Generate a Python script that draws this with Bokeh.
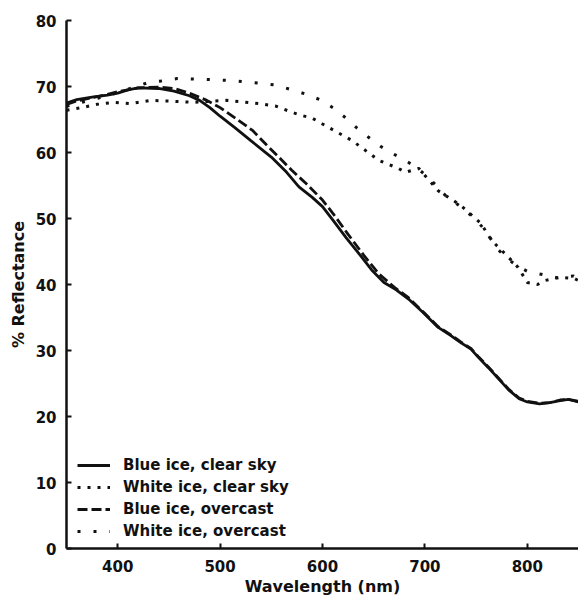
from bokeh.plotting import figure
from bokeh.embed import file_html
from bokeh.resources import INLINE
from bokeh.models import Range1d, FixedTicker, Legend, LegendItem

# ---- data ----
wl_blue_clear = [350, 360, 375, 390, 400, 410, 420, 440, 455, 470, 480, 490, 500, 515, 530, 550, 565, 577, 590, 600,
                 610, 623, 635, 648, 660, 672, 684, 698, 713, 725, 735, 745, 752, 762, 772, 782, 792, 800, 812, 822,
                 832, 840, 850]
refl_blue_clear = [67.5, 68.0, 68.4, 68.7, 69.0, 69.5, 69.8, 69.7, 69.3, 68.6, 67.9, 66.8, 65.5, 63.7, 61.8, 59.3, 57.0,
                   54.8, 53.2, 51.8, 49.8, 47.1, 44.8, 42.2, 40.3, 39.2, 37.8, 35.8, 33.5, 32.3, 31.2, 30.2, 29.0, 27.4,
                   25.7, 24.0, 22.7, 22.2, 21.9, 22.1, 22.4, 22.6, 22.3]

wl_white_clear = [350, 365, 380, 396, 412, 432, 450, 473, 506, 538, 555, 570, 580, 590, 606, 629, 655, 674, 681, 694,
                  713, 735, 755, 765, 778, 791, 800, 810, 817, 832, 846, 850]
refl_white_clear = [66.4, 66.8, 67.3, 67.6, 67.4, 67.9, 67.8, 67.6, 67.9, 67.4, 67.0, 66.1, 65.6, 65.2, 63.8, 61.8, 58.8,
                    57.6, 57.0, 57.6, 54.2, 52.0, 49.2, 46.7, 44.7, 42.6, 40.3, 40.0, 40.6, 41.1, 40.9, 40.6]

wl_blue_over = [350, 360, 375, 390, 400, 420, 440, 455, 470, 487, 500, 515, 532, 545, 558, 570, 584, 600, 612, 625,
                640, 655, 670, 684, 700, 713, 725, 735, 745, 752, 762, 772, 782, 792, 800, 812, 822, 832, 840, 850]
refl_blue_over = [67.3, 67.8, 68.3, 68.8, 69.2, 69.8, 69.9, 69.7, 69.0, 67.9, 66.8, 65.2, 63.3, 61.2, 59.2, 57.3, 55.3,
                  52.8, 50.4, 47.6, 44.5, 41.6, 39.6, 38.0, 35.6, 33.6, 32.4, 31.3, 30.3, 29.1, 27.5, 25.8, 24.1, 22.8,
                  22.3, 22.0, 22.1, 22.5, 22.6, 22.2]

wl_white_over = [350, 370, 390, 410, 430, 441, 458, 483, 512, 538, 555, 570, 585, 599, 611, 623, 633, 645, 657, 669,
                 681, 692, 705, 720, 735, 750, 760, 770, 780, 790, 800, 815, 830, 845, 850]
refl_white_over = [67.0, 67.8, 68.6, 69.6, 70.6, 70.8, 71.2, 71.1, 70.9, 70.5, 70.2, 69.5, 68.8, 67.9, 66.7, 65.2, 63.8,
                   62.3, 60.9, 59.8, 58.8, 57.7, 56.0, 53.5, 51.8, 49.8, 48.0, 45.5, 44.0, 42.8, 42.0, 41.5, 41.0, 41.3,
                   40.8]

x_ticks = [400, 500, 600, 700, 800]
y_ticks = [0, 10, 20, 30, 40, 50, 60, 70, 80]
labels = ["Blue ice, clear sky", "White ice, clear sky", "Blue ice, overcast", "White ice, overcast"]

FONT = "DejaVu Sans"
INK = "#111111"

p = figure(width=578, height=598, output_backend="svg", toolbar_location=None,
           x_range=Range1d(350, 850), y_range=Range1d(0, 80),
           min_border_left=66, min_border_right=0, min_border_top=20, min_border_bottom=50)
p.outline_line_color = None
p.grid.visible = False
p.background_fill_color = "white"
p.border_fill_color = "white"

r1 = p.line(wl_blue_clear, refl_blue_clear, line_color=INK, line_width=2.8)
r2 = p.line(wl_white_clear, refl_white_clear, line_color=INK, line_width=3, line_dash="3 7")
r3 = p.line(wl_blue_over, refl_blue_over, line_color=INK, line_width=2.8, line_dash="10 4")
r4 = p.line(wl_white_over, refl_white_over, line_color=INK, line_width=3, line_dash="3 13")

for ax in (p.xaxis[0], p.yaxis[0]):
    ax.axis_line_width = 2.5
    ax.axis_line_color = INK
    ax.major_tick_line_color = INK
    ax.major_tick_line_width = 2
    ax.major_tick_in = 5
    ax.major_tick_out = 0
    ax.minor_tick_line_color = None
    ax.major_label_text_font = FONT
    ax.major_label_text_font_style = "bold"
    ax.major_label_text_font_size = "15px"
    ax.major_label_text_color = INK
    ax.axis_label_text_font = FONT
    ax.axis_label_text_font_style = "bold"
    ax.axis_label_text_font_size = "16px"
    ax.axis_label_text_color = INK

p.xaxis[0].ticker = FixedTicker(ticks=x_ticks)
p.yaxis[0].ticker = FixedTicker(ticks=y_ticks)
p.xaxis[0].axis_label = "Wavelength (nm)"
p.yaxis[0].axis_label = "% Reflectance"
p.xaxis[0].major_label_standoff = 11
p.xaxis[0].axis_label_standoff = 2
p.yaxis[0].major_label_standoff = 10
p.yaxis[0].axis_label_standoff = 5

legend = Legend(items=[LegendItem(label=labels[0], renderers=[r1]),
                       LegendItem(label=labels[1], renderers=[r2]),
                       LegendItem(label=labels[2], renderers=[r3]),
                       LegendItem(label=labels[3], renderers=[r4])],
                location=(11, 7))
legend.border_line_color = None
legend.background_fill_alpha = 0
legend.margin = 0
legend.padding = 0
legend.spacing = 2
legend.glyph_width = 33
legend.glyph_height = 20
legend.label_height = 20
legend.label_standoff = 13
legend.label_text_font = FONT
legend.label_text_font_style = "bold"
legend.label_text_font_size = "15px"
legend.label_text_color = INK
p.add_layout(legend, "center")

open("out.html", "w").write(file_html(p, INLINE))
